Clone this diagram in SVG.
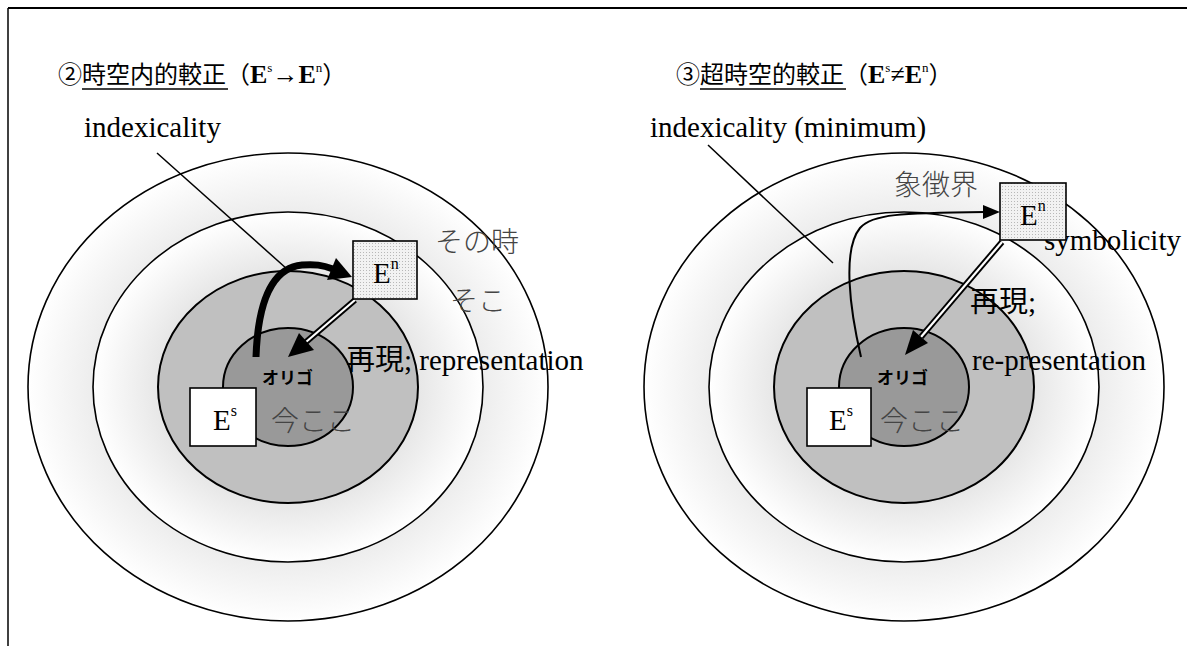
<svg xmlns="http://www.w3.org/2000/svg" width="1187" height="646" viewBox="0 0 1187 646">
<style>
.t{font-family:"Liberation Serif","Noto Sans CJK JP",serif;font-size:29px;fill:#000}
.jp{font-family:"Liberation Serif","Noto Sans CJK JP",serif;font-size:28px;fill:#444;font-weight:300}
.title{font-family:"Liberation Serif","Noto Sans CJK JP",serif;font-size:24px;fill:#000}
.origo{font-family:"Noto Sans CJK JP",sans-serif;font-size:17px;font-weight:bold;fill:#000}
.ring{fill:url(#rg);stroke:#000;stroke-width:1.6}
.mid{fill:#c0c0c0;stroke:#000;stroke-width:2}
.core{fill:#999;stroke:#000;stroke-width:2}
.box{fill:#fff;stroke:#000;stroke-width:1.6}
.dbox{fill:url(#dots);stroke:#000;stroke-width:1.6}
.sup{font-size:16px}
.thin{fill:none;stroke:#000;stroke-width:1.5}
</style>
<defs>
<radialGradient id="rg" cx="0.5" cy="0.5" r="0.5">
<stop offset="0" stop-color="#d8d8d8"/>
<stop offset="0.6" stop-color="#e2e2e2"/>
<stop offset="1" stop-color="#ffffff"/>
</radialGradient>
<pattern id="dots" width="3" height="3" patternUnits="userSpaceOnUse">
<rect width="3" height="3" fill="#f2f2f2"/>
<rect width="1" height="1" fill="#b8b8b8"/>
</pattern>
</defs>
<rect width="1187" height="646" fill="#fff"/>
<g id="frame" fill="none" stroke="#000">
<line x1="8" y1="8" x2="1187" y2="8" stroke-width="2"/>
<line x1="8" y1="8" x2="8" y2="646" stroke-width="1.5"/>
</g>

<g id="left-outer"><ellipse class="ring" cx="288" cy="387" rx="260" ry="234"/></g>
<g id="left-second"><ellipse class="ring" cx="288" cy="387" rx="195" ry="175"/></g>
<g id="left-third"><ellipse class="mid" cx="288" cy="387" rx="130" ry="116"/></g>
<g id="left-core"><ellipse class="core" cx="288" cy="387" rx="65" ry="59"/></g>

<g id="right-outer"><ellipse class="ring" cx="904" cy="387" rx="260" ry="234"/></g>
<g id="right-second"><ellipse class="ring" cx="904" cy="387" rx="195" ry="175"/></g>
<g id="right-third"><ellipse class="mid" cx="904" cy="387" rx="130" ry="116"/></g>
<g id="right-core"><ellipse class="core" cx="904" cy="387" rx="65" ry="59"/></g>

<g id="titles">
<text class="title" x="58" y="83">②時空内的較正<tspan>（</tspan><tspan font-weight="bold" font-size="26">E</tspan><tspan font-size="13" dy="-11">s</tspan><tspan dy="11" font-size="26">→</tspan><tspan font-weight="bold" font-size="26">E</tspan><tspan font-size="13" dy="-11">n</tspan><tspan dy="11">）</tspan></text>
<line x1="82" y1="89" x2="228" y2="89" stroke="#000" stroke-width="1.5"/>
<text class="title" x="676" y="83">③超時空的較正<tspan>（</tspan><tspan font-weight="bold" font-size="26">E</tspan><tspan font-size="13" dy="-11">s</tspan><tspan dy="11" font-size="26">≠</tspan><tspan font-weight="bold" font-size="26">E</tspan><tspan font-size="13" dy="-11">n</tspan><tspan dy="11">）</tspan></text>
<line x1="700" y1="89" x2="846" y2="89" stroke="#000" stroke-width="1.5"/>
</g>

<g id="labels">
<text class="t" x="84" y="137">indexicality</text>
<text class="t" x="650" y="137">indexicality (minimum)</text>
<text class="jp" x="435" y="252">その時</text>
<text class="jp" x="450" y="311">そこ</text>
<text class="t" x="346" y="370">再現; representation</text>
<text class="origo" x="262" y="384">オリゴ</text>
<text class="jp" x="271" y="431">今ここ</text>
<text class="jp" x="894" y="195">象徴界</text>
<text class="t" x="1044" y="250">symbolicity</text>
<text class="t" x="970" y="312">再現;</text>
<text class="t" x="972" y="370">re-presentation</text>
<text class="origo" x="877" y="384">オリゴ</text>
<text class="jp" x="880" y="431">今ここ</text>
</g>

<g id="connectors">
<line class="thin" x1="157" y1="153" x2="287" y2="269"/>
<line class="thin" x1="708" y1="145" x2="833" y2="263"/>
<path d="M256 357 C258 300 272 268 302 265 C315 264 322 265 333 269" fill="none" stroke="#000" stroke-width="7"/>
<polygon points="352,277 336,258 327,280" fill="#000"/>
<line x1="355" y1="300" x2="306" y2="342" stroke="#000" stroke-width="6"/>
<line x1="355" y1="300" x2="306" y2="342" stroke="#fff" stroke-width="2.2"/>
<polygon points="288,357 299,333 314,350" fill="#000"/>
<path d="M861 357 C850 310 842 250 860 228 C872 214 900 213 985 212" fill="none" stroke="#000" stroke-width="2"/>
<polygon points="1000,212 983,205 983,219" fill="#000"/>
<line x1="1002" y1="242" x2="921" y2="337" stroke="#000" stroke-width="6"/>
<line x1="1002" y1="242" x2="921" y2="337" stroke="#fff" stroke-width="2.2"/>
<polygon points="905,355 913,330 928,343" fill="#000"/>
</g>

<g id="left-es"><rect class="box" x="190" y="388" width="66" height="58"/><text class="t" x="213" y="430">E<tspan class="sup" dy="-14">s</tspan></text></g>
<g id="left-en"><rect class="dbox" x="353" y="241" width="64" height="58"/><text class="t" x="373" y="283">E<tspan class="sup" dy="-14">n</tspan></text></g>
<g id="right-es"><rect class="box" x="807" y="388" width="64" height="58"/><text class="t" x="829" y="430">E<tspan class="sup" dy="-14">s</tspan></text></g>
<g id="right-en"><rect class="dbox" x="1000" y="183" width="66" height="57"/><text class="t" x="1020" y="225">E<tspan class="sup" dy="-14">n</tspan></text></g>
</svg>
